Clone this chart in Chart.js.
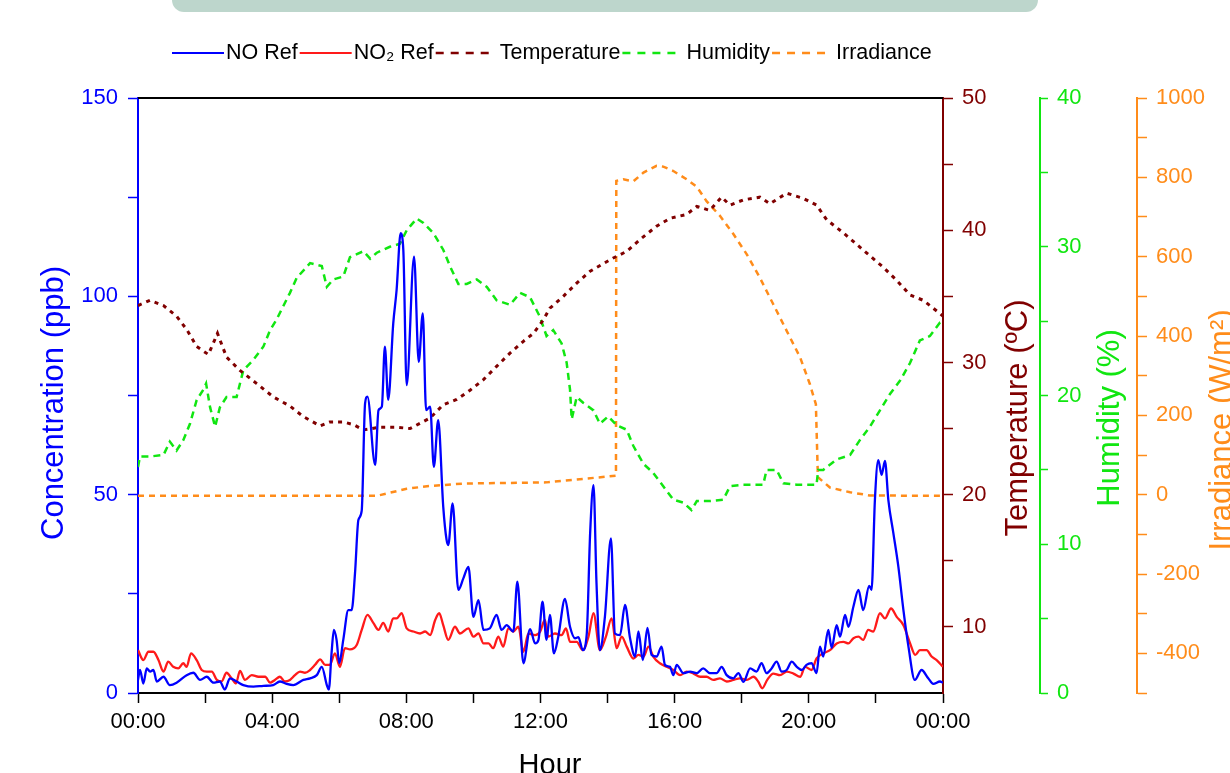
<!DOCTYPE html>
<html>
<head>
<meta charset="utf-8">
<script src="https://cdn.jsdelivr.net/npm/chart.js@4.4.1/dist/chart.umd.min.js"></script>
<style>
  html, body { margin: 0; padding: 0; background: #fff; overflow: hidden; }
  #wrap { position: relative; width: 1230px; height: 773px; }
  #banner { position: absolute; left: 172px; top: 0; width: 866px; height: 12px; background: #bdd6cc; border-radius: 0 0 14px 14px; }
  canvas { position: absolute; left: 0; top: 0; }
</style>
</head>
<body>
<div id="wrap">
  <canvas id="chart" width="1230" height="773"></canvas>
  <div id="banner"></div>
</div>
<script>
// hours of day (0-24) and readings
const noHours = [
  0.00, 0.06, 0.16, 0.26, 0.36, 0.46, 0.56, 0.76, 0.95, 1.15,
  1.45, 1.65, 1.85, 2.05, 2.25, 2.44, 2.59, 2.74, 2.94, 3.14,
  3.44, 3.74, 4.03, 4.23, 4.43, 4.63, 4.93, 5.13, 5.33, 5.48,
  5.63, 5.69, 5.77, 5.84, 5.92, 6.00, 6.12, 6.27, 6.37, 6.47,
  6.57, 6.67, 6.77, 6.84, 7.07, 7.17, 7.27, 7.36, 7.46, 7.61,
  7.71, 7.83, 7.91, 8.01, 8.23, 8.37, 8.49, 8.59, 8.71, 8.82,
  8.95, 9.10, 9.20, 9.25, 9.38, 9.55, 9.70, 9.85, 10.00, 10.15,
  10.30, 10.49, 10.69, 10.84, 10.99, 11.19, 11.31, 11.49, 11.69, 11.84,
  11.94, 12.06, 12.18, 12.28, 12.40, 12.53, 12.73, 12.88, 13.03, 13.13,
  13.26, 13.38, 13.48, 13.58, 13.67, 13.77, 13.92, 14.10, 14.22, 14.37,
  14.52, 14.67, 14.82, 14.92, 15.05, 15.19, 15.31, 15.46, 15.61, 15.71,
  15.86, 15.96, 16.06, 16.26, 16.46, 16.66, 16.85, 17.05, 17.25, 17.40,
  17.55, 17.75, 17.90, 18.05, 18.25, 18.44, 18.59, 18.74, 18.89, 19.04,
  19.19, 19.34, 19.49, 19.64, 19.79, 19.93, 20.08, 20.23, 20.33, 20.43,
  20.58, 20.68, 20.83, 20.93, 21.08, 21.18, 21.33, 21.48, 21.62, 21.80,
  21.87, 21.97, 22.07, 22.17, 22.27, 22.37, 22.52, 22.67, 22.82, 22.97,
  23.16, 23.36, 23.56, 23.71, 23.91, 24.00
];
const noValues = [
  3.3, 5.8, 2.4, 6.2, 5.4, 5.8, 2.9, 4.1, 2.0, 2.6,
  4.5, 5.1, 3.3, 4.1, 2.6, 2.9, 0.9, 3.7, 2.9, 2.0,
  1.6, 1.8, 2.0, 2.9, 2.3, 2.0, 3.3, 3.7, 4.5, 6.6,
  2.0, 0.9, 10.0, 15.9, 13.4, 7.5, 13.4, 20.9, 20.9, 30.2,
  43.6, 46.0, 73.0, 74.7, 57.5, 71.3, 72.2, 87.3, 73.9, 93.2,
  101.6, 115.9, 111.7, 77.6, 110.0, 83.5, 95.7, 71.3, 72.2, 57.0,
  68.8, 47.0, 38.6, 37.3, 47.8, 26.0, 28.9, 31.8, 19.2, 23.4,
  15.9, 16.3, 19.7, 15.9, 17.1, 15.5, 28.1, 7.5, 16.1, 12.5,
  13.4, 23.0, 13.4, 19.7, 10.0, 14.2, 23.7, 16.7, 13.8, 14.1,
  10.8, 15.0, 40.3, 52.4, 27.6, 10.8, 19.2, 39.0, 15.0, 14.6,
  22.2, 13.8, 9.2, 15.5, 8.3, 16.4, 9.6, 9.2, 11.7, 7.1,
  6.6, 4.5, 7.1, 5.0, 5.4, 5.0, 6.2, 5.0, 5.0, 6.6,
  4.5, 3.7, 5.0, 2.8, 6.2, 5.4, 7.5, 5.0, 6.2, 7.9,
  5.4, 5.8, 7.9, 6.6, 5.8, 7.1, 7.5, 5.0, 11.7, 9.2,
  15.9, 11.4, 17.1, 14.2, 19.7, 16.7, 21.8, 26.0, 20.9, 27.0,
  26.0, 48.7, 58.7, 55.0, 58.5, 48.7, 40.3, 31.8, 20.9, 11.7,
  3.3, 5.8, 3.7, 2.3, 2.9, 2.6
];

const no2Hours = [
  0.00, 0.16, 0.31, 0.46, 0.61, 0.76, 0.90, 1.05, 1.20, 1.35,
  1.45, 1.58, 1.75, 1.90, 2.05, 2.20, 2.35, 2.49, 2.64, 2.79,
  2.92, 3.04, 3.19, 3.39, 3.59, 3.79, 3.94, 4.08, 4.23, 4.38,
  4.53, 4.68, 4.83, 4.98, 5.13, 5.28, 5.43, 5.58, 5.72, 5.87,
  6.02, 6.17, 6.32, 6.52, 6.67, 6.84, 7.02, 7.17, 7.31, 7.46,
  7.61, 7.71, 7.86, 8.01, 8.21, 8.41, 8.56, 8.71, 8.86, 8.98,
  9.10, 9.25, 9.45, 9.60, 9.85, 10.00, 10.15, 10.30, 10.45, 10.59,
  10.74, 10.89, 11.04, 11.19, 11.34, 11.49, 11.64, 11.84, 11.99, 12.13,
  12.23, 12.43, 12.63, 12.76, 12.88, 13.08, 13.26, 13.43, 13.58, 13.77,
  13.95, 14.12, 14.27, 14.42, 14.57, 14.77, 14.92, 15.07, 15.22, 15.36,
  15.56, 15.76, 15.96, 16.16, 16.36, 16.56, 16.76, 16.95, 17.15, 17.35,
  17.55, 17.75, 17.95, 18.15, 18.35, 18.49, 18.61, 18.76, 18.94, 19.14,
  19.34, 19.54, 19.74, 19.89, 20.08, 20.23, 20.43, 20.63, 20.83, 21.03,
  21.18, 21.33, 21.48, 21.62, 21.77, 21.92, 22.12, 22.27, 22.45, 22.62,
  22.82, 23.02, 23.17, 23.31, 23.51, 23.66, 23.81, 24.00
];
const no2Values = [
  10.8, 8.3, 10.4, 10.4, 8.3, 5.4, 7.9, 6.6, 6.2, 7.5,
  6.6, 10.0, 8.3, 5.8, 5.4, 5.4, 3.3, 2.9, 5.1, 3.7,
  2.4, 5.6, 3.3, 4.5, 4.1, 4.1, 2.6, 3.3, 4.1, 2.9,
  3.3, 4.5, 5.4, 5.1, 5.8, 7.1, 8.5, 7.1, 7.1, 10.0,
  6.6, 11.3, 11.0, 12.1, 15.9, 19.7, 17.6, 15.9, 17.7, 15.5,
  18.8, 18.8, 20.1, 16.3, 15.5, 15.0, 15.5, 14.6, 18.4, 20.1,
  17.1, 13.4, 16.7, 15.0, 16.3, 14.2, 15.0, 12.5, 12.5, 11.3,
  14.2, 11.7, 16.3, 15.5, 16.7, 10.4, 15.0, 14.6, 15.5, 18.4,
  14.2, 15.0, 14.6, 16.3, 12.9, 12.9, 10.8, 14.2, 20.1, 10.8,
  14.2, 18.8, 11.3, 14.2, 11.7, 8.7, 9.6, 9.2, 11.7, 9.2,
  7.5, 6.6, 5.8, 4.5, 5.4, 4.9, 4.1, 4.1, 3.3, 3.7,
  2.9, 3.3, 3.7, 3.3, 4.1, 2.9, 1.2, 3.3, 4.9, 4.5,
  5.4, 4.9, 4.1, 6.6, 5.8, 8.7, 10.0, 10.8, 12.5, 12.9,
  12.5, 13.8, 14.2, 13.4, 15.9, 15.5, 20.1, 18.8, 21.3, 19.2,
  17.1, 12.5, 9.6, 10.8, 10.8, 9.2, 8.3, 6.6
];

const tempHours = [
  0.00, 0.36, 0.76, 1.15, 1.45, 1.75, 2.10, 2.37, 2.64, 3.04,
  3.54, 4.03, 4.53, 4.93, 5.43, 5.72, 6.12, 6.42, 6.72, 7.22,
  7.71, 8.11, 8.41, 8.71, 9.10, 9.50, 9.90, 10.30, 10.69, 11.09,
  11.49, 11.79, 12.08, 12.28, 12.68, 13.08, 13.48, 13.82, 14.17, 14.57,
  14.97, 15.46, 15.86, 16.36, 16.66, 17.05, 17.40, 17.65, 18.05, 18.54,
  18.84, 19.34, 19.84, 20.23, 20.53, 21.03, 21.62, 22.22, 22.62, 23.02,
  23.41, 23.91, 24.00
];
const tempValues = [
  34.3, 34.7, 34.3, 33.5, 32.5, 31.2, 30.6, 32.2, 30.4, 29.4,
  28.4, 27.4, 26.7, 25.9, 25.2, 25.5, 25.5, 25.3, 24.9, 25.1,
  25.1, 25.0, 25.4, 25.8, 26.8, 27.2, 27.9, 28.7, 29.7, 30.7,
  31.6, 32.2, 33.2, 34.1, 35.0, 36.0, 36.9, 37.4, 37.9, 38.4,
  39.3, 40.3, 40.9, 41.2, 41.8, 41.5, 42.5, 41.9, 42.3, 42.5,
  42.0, 42.8, 42.4, 41.9, 40.8, 39.8, 38.5, 37.2, 36.2, 35.1,
  34.7, 33.7, 33.5
];

const humHours = [
  0.00, 0.06, 0.36, 0.76, 0.95, 1.15, 1.35, 1.55, 1.75, 1.95,
  2.03, 2.15, 2.30, 2.44, 2.64, 2.94, 3.14, 3.44, 3.74, 3.94,
  4.13, 4.33, 4.53, 4.73, 5.13, 5.48, 5.63, 5.82, 6.12, 6.32,
  6.72, 6.92, 7.12, 7.51, 7.81, 8.01, 8.31, 8.51, 8.81, 9.10,
  9.30, 9.55, 9.80, 10.10, 10.40, 10.69, 11.09, 11.39, 11.69, 11.98,
  12.18, 12.38, 12.63, 12.78, 12.88, 12.93, 13.08, 13.28, 13.58, 13.77,
  14.02, 14.27, 14.57, 14.77, 15.07, 15.36, 15.66, 15.96, 16.26, 16.50,
  16.66, 17.05, 17.45, 17.65, 18.05, 18.64, 18.74, 19.04, 19.24, 19.64,
  20.23, 20.28, 20.43, 20.83, 21.23, 21.52, 21.82, 22.12, 22.42, 22.72,
  23.02, 23.31, 23.61, 23.91, 24.00
];
const humValues = [
  15.2, 15.9, 15.9, 16.0, 16.9, 16.3, 17.0, 18.1, 19.7, 20.4,
  20.8, 19.2, 17.9, 19.2, 19.9, 19.9, 21.7, 22.4, 23.3, 24.4,
  25.1, 26.0, 26.9, 27.9, 28.9, 28.7, 27.3, 27.8, 28.0, 29.3,
  29.7, 29.2, 29.6, 30.0, 30.2, 31.1, 31.9, 31.6, 30.9, 29.8,
  28.7, 27.5, 27.5, 27.8, 27.3, 26.4, 26.1, 26.9, 26.6, 25.3,
  24.0, 24.4, 23.5, 22.2, 20.4, 18.4, 19.9, 19.5, 19.0, 18.1,
  18.6, 18.0, 17.7, 16.6, 15.4, 14.8, 13.9, 13.0, 12.8, 12.3,
  12.9, 12.9, 13.0, 13.9, 14.0, 14.0, 15.0, 15.0, 14.1, 14.0,
  14.0, 15.0, 15.0, 15.7, 16.0, 17.0, 17.9, 19.0, 20.1, 21.0,
  22.2, 23.7, 24.0, 24.9, 25.0
];

const irrHours = [
  0.00, 7.12, 7.42, 8.01, 8.71, 9.70, 12.18, 12.68, 13.67, 14.25,
  14.26, 14.47, 14.77, 15.07, 15.46, 15.66, 15.96, 16.36, 16.66, 16.95,
  17.35, 17.75, 18.15, 18.54, 18.94, 19.34, 19.74, 20.03, 20.21, 20.27,
  20.63, 21.23, 21.82, 24.00
];
const irrValues = [
  -3, -3, 3, 15, 22, 28, 31, 35, 43, 48,
  791, 795, 790, 812, 829, 827, 816, 795, 776, 740,
  703, 657, 606, 547, 480, 413, 346, 279, 228, 44,
  18, 6, -2, -3
];

const BLUE = '#0000ff', RED = '#ff1a1a', MAROON = '#800000', GREEN = '#11e611', ORANGE = '#ff8c1a';
const FONT = '"Liberation Sans", Arial, sans-serif';

function toPoints(xs, ys) {
  return xs.map((h, i) => ({ x: h, y: ys[i] }));
}

function sideAxis(color, min, max, step, labelEvery, width, tickLen) {
  return {
    position: 'right', min: min, max: max,
    afterFit: s => { s.width = width; },
    ticks: {
      stepSize: step, autoSkip: false, color: color, padding: 9,
      font: { family: FONT, size: 22 },
      callback: v => (v % labelEvery === 0 ? String(v) : '')
    },
    grid: { drawOnChartArea: false, color: color, tickLength: tickLen, tickWidth: 1.5 },
    border: { color: color, width: 2 }
  };
}

const axisTitles = [
  { scale: 'y', text: 'Concentration (ppb)', color: BLUE, dx: 54, cy: 403 },
  { scale: 'temp', text: 'Temperature (ºC)', color: MAROON, dx: 75, cy: 418 },
  { scale: 'hum', text: 'Humidity (%)', color: GREEN, dx: 70, cy: 418 },
  { scale: 'irr', text: 'Irradiance (W/m²)', color: ORANGE, dx: 85, cy: 430 }
];

const decorations = {
  id: 'decorations',
  afterDraw(chart) {
    const ctx = chart.ctx, area = chart.chartArea;
    ctx.save();
    // top frame line
    ctx.strokeStyle = '#000';
    ctx.lineWidth = 2;
    ctx.beginPath();
    ctx.moveTo(area.left, area.top);
    ctx.lineTo(area.right, area.top);
    ctx.stroke();

    // axis titles, all reading bottom to top
    ctx.font = '31px ' + FONT;
    ctx.textAlign = 'center';
    ctx.textBaseline = 'middle';
    axisTitles.forEach(t => {
      const s = chart.scales[t.scale];
      ctx.save();
      ctx.translate(s.left + t.dx, t.cy);
      ctx.rotate(-Math.PI / 2);
      ctx.fillStyle = t.color;
      ctx.fillText(t.text, 0, 0);
      ctx.restore();
    });
    ctx.font = '29px ' + FONT;
    ctx.fillStyle = '#000';
    ctx.textBaseline = 'alphabetic';
    ctx.fillText('Hour', 550, 774);

    // legend row
    let x = 172;
    const y = 53;
    ctx.font = '21.5px ' + FONT;
    ctx.textAlign = 'left';
    ctx.textBaseline = 'middle';
    chart.data.datasets.forEach(ds => {
      const dashed = ds.borderDash && ds.borderDash.length > 0;
      ctx.strokeStyle = ds.borderColor;
      ctx.lineWidth = dashed ? 2.5 : 2;
      ctx.setLineDash(dashed ? [8, 7] : []);
      ctx.beginPath();
      ctx.moveTo(x, y);
      ctx.lineTo(x + (dashed ? 53 : 52), y);
      ctx.stroke();
      ctx.setLineDash([]);
      const tx = x + (dashed ? 64 : 54);
      ctx.fillStyle = '#000';
      ctx.fillText(ds.label, tx, y);
      x = tx + ctx.measureText(ds.label).width + 2;
    });
    ctx.restore();
  }
};

const ctx = document.getElementById('chart').getContext('2d');
new Chart(ctx, {
  type: 'line',
  data: {
    datasets: [
      { label: 'NO Ref', data: toPoints(noHours, noValues), yAxisID: 'y',
        borderColor: BLUE, borderWidth: 2.3, cubicInterpolationMode: 'monotone' },
      { label: 'NO₂ Ref', data: toPoints(no2Hours, no2Values), yAxisID: 'y',
        borderColor: RED, borderWidth: 2.3, cubicInterpolationMode: 'monotone' },
      { label: 'Temperature', data: toPoints(tempHours, tempValues), yAxisID: 'temp',
        borderColor: MAROON, borderWidth: 3, borderDash: [4, 5] },
      { label: 'Humidity', data: toPoints(humHours, humValues), yAxisID: 'hum',
        borderColor: GREEN, borderWidth: 2.5, borderDash: [7, 5] },
      { label: 'Irradiance', data: toPoints(irrHours, irrValues), yAxisID: 'irr',
        borderColor: ORANGE, borderWidth: 2.5, borderDash: [6, 5] }
    ]
  },
  options: {
    responsive: false,
    animation: false,
    events: [],
    layout: { padding: { top: 98, left: 0, right: 0, bottom: 0 } },
    elements: { point: { radius: 0 }, line: { fill: false } },
    plugins: { legend: { display: false }, tooltip: { enabled: false } },
    scales: {
      x: {
        type: 'linear', min: 0, max: 24,
        afterFit: s => { s.height = 80; },
        ticks: {
          stepSize: 2, autoSkip: false, maxRotation: 0, color: '#000', padding: 6,
          font: { family: FONT, size: 22 },
          callback: v => (v % 4 === 0 ? String(v % 24).padStart(2, '0') + ':00' : '')
        },
        grid: { drawOnChartArea: false, color: '#000', tickLength: 10, tickWidth: 1.5 },
        border: { color: '#000', width: 2 }
      },
      y: {
        position: 'left', min: 0, max: 150,
        afterFit: s => { s.width = 138; },
        ticks: {
          stepSize: 25, autoSkip: false, color: BLUE, padding: 10,
          font: { family: FONT, size: 22 },
          callback: v => (v % 50 === 0 ? String(v) : '')
        },
        grid: { drawOnChartArea: false, color: BLUE, tickLength: 10, tickWidth: 1.5 },
        border: { color: BLUE, width: 2 }
      },
      temp: Object.assign(sideAxis(MAROON, 5, 50, 5, 10, 97, 10), {
        afterBuildTicks: s => { s.ticks = s.ticks.filter(t => t.value >= 10); }
      }),
      hum: sideAxis(GREEN, 0, 40, 5, 10, 97, 8),
      irr: sideAxis(ORANGE, -500, 1000, 100, 200, 93, 10)
    }
  },
  plugins: [decorations]
});
</script>
</body>
</html>
